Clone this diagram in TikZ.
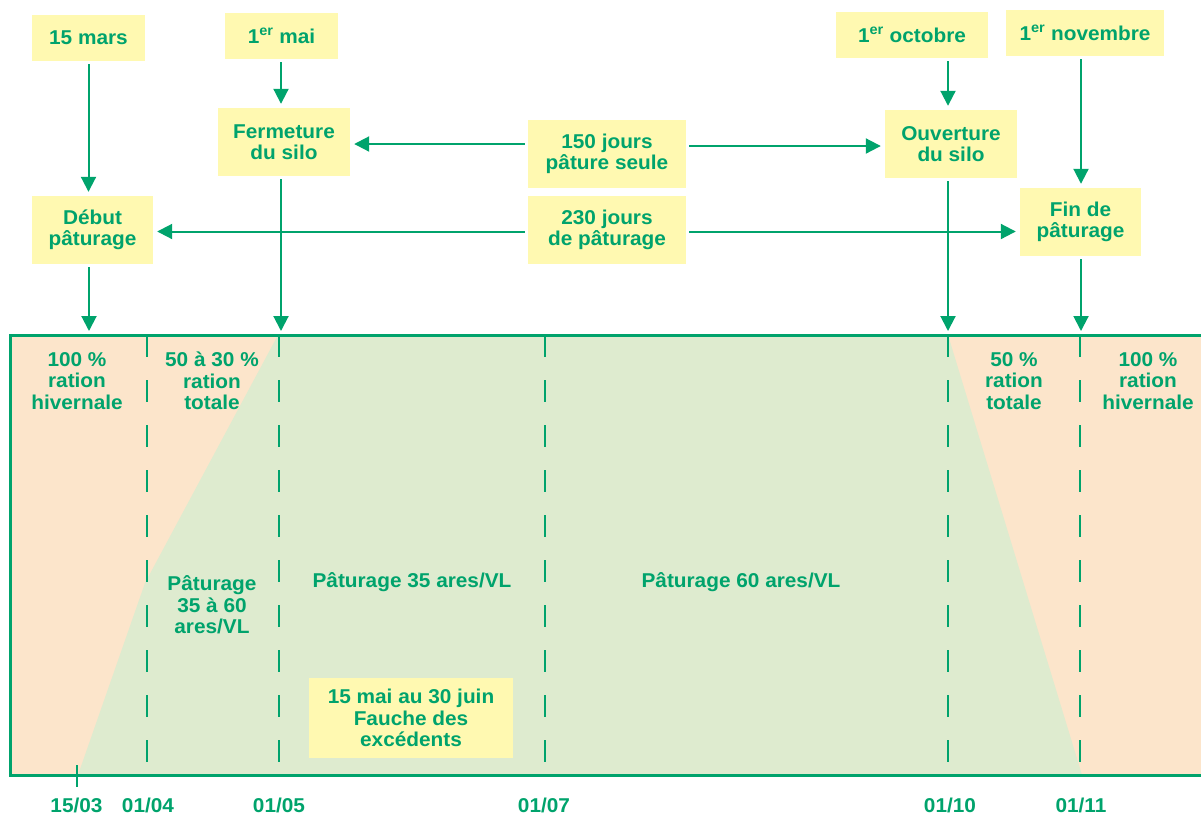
\documentclass[tikz,border=0pt]{standalone}
\usepackage{fontspec}
\setmainfont{Liberation Sans}[FakeStretch=1.04]
\usetikzlibrary{arrows.meta}
\definecolor{grn}{RGB}{0,163,108}
\definecolor{ylw}{RGB}{255,249,177}
\definecolor{peach}{RGB}{252,229,203}
\definecolor{lgrn}{RGB}{222,235,207}
\begin{document}
\begin{tikzpicture}[x=1pt,y=-1pt,
 every node/.style={font=\fontsize{20}{21.5}\selectfont\bfseries, text=grn, align=center},
 ybox/.style={fill=ylw, inner sep=0pt},
 arr/.style={draw=grn, line width=2pt, -{Triangle[length=15pt,width=15pt]}, shorten <=3pt, shorten >=4pt},
 datedash/.style={draw=grn, line width=2.8pt, dash pattern=on 22pt off 23pt},
 border/.style={draw=grn, line width=3pt},
]
\useasboundingbox (0,0) rectangle (1201,815);

% chart background
\fill[peach] (10,335) rectangle (1201,775);
\fill[lgrn] (278,335) -- (948,335) -- (1082,775) -- (78,775) -- (145,583) -- cycle;

% chart coordinates
\coordinate (t1) at (89,335);
\coordinate (t2) at (281,335);
\coordinate (t4) at (948,335);
\coordinate (t5) at (1081,335);

% dashed date lines
\foreach \x in {147,279,545,948,1080} \draw[datedash] (\x,335) -- (\x,775);
\draw[border] (1201,335) -- (10,335) -- (10,775) -- (1201,775);
\draw[grn, line width=2.5pt] (77,765) -- (77,787);

% boxes
\node[ybox, minimum width=113pt, minimum height=46pt] (m15) at (88.5,38) {15 mars};
\node[ybox, minimum width=113pt, minimum height=46pt] (mai1) at (281.5,36) {1\textsuperscript{er} mai};
\node[ybox, minimum width=132pt, minimum height=68pt] (ferm) at (284,142) {Fermeture\\du silo};
\node[ybox, minimum width=121pt, minimum height=68pt] (debut) at (92.5,230) {Début\\pâturage};
\node[ybox, minimum width=158pt, minimum height=68pt] (j150) at (607,154) {150 jours\\pâture seule};
\node[ybox, minimum width=158pt, minimum height=68pt] (j230) at (607,230) {230 jours\\de pâturage};
\node[ybox, minimum width=152pt, minimum height=46pt] (oct1) at (912,35) {1\textsuperscript{er} octobre};
\node[ybox, minimum width=158pt, minimum height=46pt] (nov1) at (1085,33) {1\textsuperscript{er} novembre};
\node[ybox, minimum width=132pt, minimum height=68pt] (ouv) at (951,144) {Ouverture\\du silo};
\node[ybox, minimum width=121pt, minimum height=68pt] (fin) at (1080.5,222) {Fin de\\pâturage};
\node[ybox, minimum width=204pt, minimum height=80pt] (fauche) at (411,718) {15 mai au 30 juin\\Fauche des\\excédents};

% arrows
\draw[arr] (m15.south) -- (debut.north -| m15.south);
\draw[arr] (t1 |- debut.south) -- (t1);
\draw[arr] (t2 |- mai1.south) -- (t2 |- ferm.north);
\draw[arr] (t2 |- ferm.south) -- (t2);
\draw[arr] ([yshift=-2pt]j150.west |- ferm.east) -- ([yshift=-2pt]ferm.east);
\draw[arr] ([yshift=-2pt]j150.east |- ouv.west) -- ([yshift=-2pt]ouv.west);
\draw[arr] ([yshift=-1.5pt]j230.west) -- ([yshift=-1.5pt]debut.east |- j230.west);
\draw[arr] ([yshift=-1.5pt]j230.east) -- ([yshift=-1.5pt]fin.west |- j230.east);
\draw[arr] (t4 |- oct1.south) -- (t4 |- ouv.north);
\draw[arr] (t4 |- ouv.south) -- (t4);
\draw[arr] (t5 |- nov1.south) -- (t5 |- fin.north);
\draw[arr] (t5 |- fin.south) -- (t5);

% chart texts
\node (h1) at (77,381) {100 \%\\ration\\hivernale};
\node (r1) at (212,381) {50 à 30 \%\\ration\\totale};
\node (p1) at (212,605) {Pâturage\\35 à 60\\ares/VL};
\node (p2) at (412,582) {Pâturage 35 ares/VL};
\node (p3) at (741,582) {Pâturage 60 ares/VL};
\node (r2) at (1014,381) {50 \%\\ration\\totale};
\node (h2) at (1148,381) {100 \%\\ration\\hivernale};

% dates
\node (d1) at (76.5,805) {15/03};
\node (d2) at (148,805) {01/04};
\node (d3) at (279,805) {01/05};
\node (d4) at (544,805) {01/07};
\node (d5) at (950,805) {01/10};
\node (d6) at (1081,805) {01/11};
\end{tikzpicture}
\end{document}
